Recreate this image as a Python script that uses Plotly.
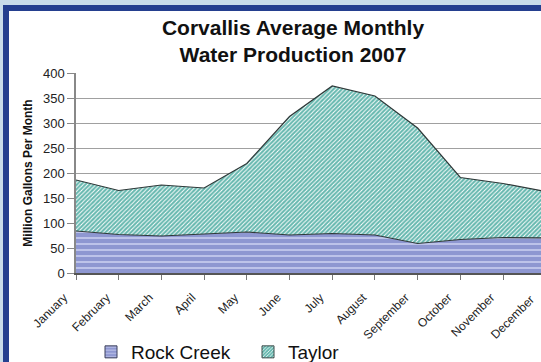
import plotly.graph_objects as go

months = ["January", "February", "March", "April", "May", "June", "July",
          "August", "September", "October", "November", "December"]
rock_creek = [84, 77, 74, 78, 82, 76, 79, 76, 59, 67, 71, 70]
taylor = [102, 88, 102, 92, 137, 237, 295, 278, 231, 124, 108, 93]
y_ticks = [0, 50, 100, 150, 200, 250, 300, 350, 400]

W, H = 541, 362
ML, MR, MT, MB = 76, 0, 73, 89
PW = W - ML - MR
PH = H - MT - MB
X_END = 10.89  # visible end of the category axis (December falls just off-frame)

def px_x(p):
    return (p - ML) / PW

def px_y(q):
    return (H - MB - q) / PH

FONT = "Liberation Sans, Arial, sans-serif"
LINE = "#2e3838"

fig = go.Figure()
fig.add_trace(go.Scatter(
    x=months, y=rock_creek, name="Rock Creek", stackgroup="one", mode="lines",
    line=dict(color=LINE, width=1.2),
    fillcolor="#8f98d2",
    fillpattern=dict(shape="-", bgcolor="#8e97d1", fgcolor="#c3c8ec",
                     size=6, solidity=0.3, fillmode="replace"),
    showlegend=False,
))
fig.add_trace(go.Scatter(
    x=months, y=taylor, name="Taylor", stackgroup="one", mode="lines",
    line=dict(color=LINE, width=1.2),
    fillcolor="#6fbdb5",
    fillpattern=dict(shape="/", bgcolor="#66b8af", fgcolor="#ffffff",
                     size=3, solidity=0.33, fillmode="replace"),
    showlegend=False,
))
# legend entries (square swatches)
fig.add_trace(go.Bar(
    x=[None], y=[None], name="Rock Creek",
    marker=dict(color="#8e97d1", line=dict(color="#3a3f5a", width=1),
                pattern=dict(shape="-", bgcolor="#8e97d1", fgcolor="#c3c8ec",
                             size=4, solidity=0.3, fillmode="replace")),
))
fig.add_trace(go.Bar(
    x=[None], y=[None], name="Taylor",
    marker=dict(color="#66b8af", line=dict(color="#3a4a48", width=1),
                pattern=dict(shape="/", bgcolor="#66b8af", fgcolor="#ffffff",
                             size=3, solidity=0.33, fillmode="replace")),
))

fig.update_layout(
    width=W, height=H, autosize=False,
    margin=dict(l=ML, r=MR, t=MT, b=MB, pad=0, autoexpand=False),
    paper_bgcolor="#c9dcea",
    plot_bgcolor="#ffffff",
    font=dict(family=FONT, color="#222222"),
    title=dict(
        text="Corvallis Average Monthly<br>Water Production 2007",
        font=dict(family=FONT, size=21, color="#111111", weight="bold"),
        xref="container", x=293 / W, xanchor="center",
        yref="container", y=1 - 35 / H, yanchor="top",
    ),
    showlegend=True,
    legend=dict(
        orientation="h", traceorder="normal",
        x=px_x(91), xanchor="left", y=px_y(352), yanchor="middle",
        font=dict(family=FONT, size=19, color="#111111"),
        entrywidth=112, entrywidthmode="pixels",
        bgcolor="rgba(0,0,0,0)", borderwidth=0,
    ),
    xaxis=dict(
        type="category", range=[0, X_END],
        tickangle=-45, tickfont=dict(family=FONT, size=12, color="#222222"),
        ticklabelstandoff=6, ticklabelshift=-12,
        ticks="outside", ticklen=5, tickcolor="#777777", tickwidth=1,
        showline=True, linecolor="#555555", linewidth=1.5,
        showgrid=False, zeroline=False, automargin=False,
    ),
    yaxis=dict(
        range=[0, 400], tickvals=y_ticks,
        tickfont=dict(family=FONT, size=13, color="#222222"),
        ticks="outside", ticklen=7, tickcolor="#888888", tickwidth=1,
        showline=True, linecolor="#888888", linewidth=1.5,
        showgrid=True, gridcolor="#a0a0a0", gridwidth=1.4,
        zeroline=False, automargin=False,
        title=dict(text="Million Gallons Per Month", standoff=8,
                   font=dict(family=FONT, size=12, color="#111111", weight="bold")),
    ),
    shapes=[
        dict(type="rect", xref="paper", yref="paper", layer="below",
             x0=px_x(3), x1=1.2, y0=px_y(H + 20), y1=px_y(5),
             fillcolor="#243f8f", line=dict(width=0)),
        dict(type="rect", xref="paper", yref="paper", layer="below",
             x0=px_x(9), x1=1.2, y0=px_y(H + 20), y1=px_y(11),
             fillcolor="#ffffff", line=dict(width=0)),
    ],
    annotations=[
        dict(text=months[-1], xref="paper", yref="paper",
             x=px_x(540), y=px_y(290), xanchor="right", yanchor="top",
             textangle=-45, showarrow=False,
             font=dict(family=FONT, size=12, color="#222222")),
    ],
)

fig.write_html("out.html")
